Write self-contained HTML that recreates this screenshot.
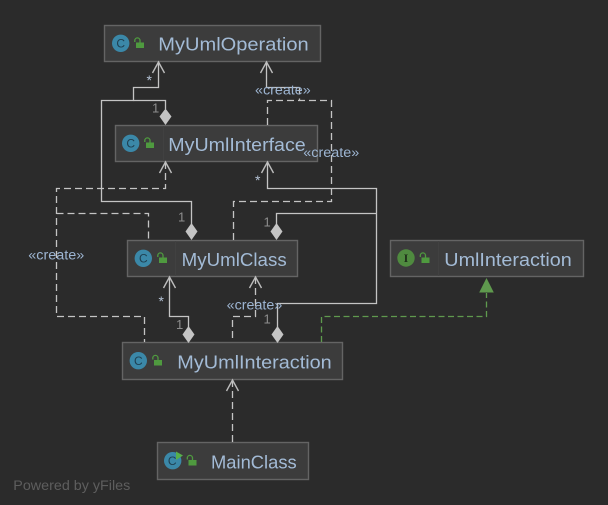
<!DOCTYPE html>
<html>
<head>
<meta charset="utf-8">
<style>
html,body{margin:0;padding:0;background:#2b2b2b;width:608px;height:505px;overflow:hidden}
svg{display:block}
text{font-family:"Liberation Sans",sans-serif}
.box{fill:#3c3c3c;stroke:#646464;stroke-width:1.4}
.sep{stroke:#414141;stroke-width:1}
.name{font-size:18.5px;fill:#a3bbd6}
.lab{font-size:13.5px;fill:#9db5d2}
.num{font-size:13px;fill:#8d8d8d}
.star{font-size:14px;fill:#b5c3d6}
.s{fill:none;stroke:#c4c4c4;stroke-width:1.3}
.d{fill:none;stroke:#c4c4c4;stroke-width:1.3;stroke-dasharray:7 4}
.a{fill:none;stroke:#bdbdbd;stroke-width:1.4}
.dia{fill:#c4c4c4}
.ic{font-size:12px;fill:#1f3f50;text-anchor:middle}
.lockb{fill:#4f9a3f}
.locks{fill:none;stroke:#4f9a3f;stroke-width:1.3}
</style>
</head>
<body>
<svg width="608" height="505" viewBox="0 0 608 505" xmlns="http://www.w3.org/2000/svg">
<rect width="608" height="505" fill="#2b2b2b"/>

<!-- boxes -->
<rect class="box" x="104.5" y="25.5" width="216" height="36"/>
<rect class="box" x="115.5" y="125.5" width="202" height="36"/>
<rect class="box" x="127.5" y="240.5" width="170" height="36"/>
<rect class="box" x="122.5" y="342.5" width="220" height="37"/>
<rect class="box" x="390.5" y="240.5" width="193" height="36"/>
<rect class="box" x="157.5" y="442.5" width="151" height="37"/>
<path class="sep" d="M163.5 126V161M175.5 241V276M438.5 241V276"/>

<!-- solid connectors -->
<path class="s" d="M191.5 224V201.5H101.5V100.5H133.5V87.5H158.5V62"/>
<path class="s" d="M133.5 100.5H165.5V109"/>
<path class="s" d="M267.5 162V188.5H376.5V303.5H277.5V327"/>
<path class="s" d="M376.5 213.5H276.5V224"/>
<path class="s" d="M169.5 277V316.5H188.5V327"/>
<path class="s" d="M266.5 62V87.5H299.5"/>

<!-- dashed connectors -->
<path class="d" d="M299.5 87.5V100.5"/>
<path class="d" d="M267.5 125V100.5H331.5V201.5H233.5V240"/>
<path class="d" d="M165.5 162V188.5H56.5V316.5H144.5V342"/>
<path class="d" d="M56.5 213.5H148.5V240"/>
<path class="d" d="M255.5 277V316.5H232.5V342"/>
<path class="d" d="M232.5 442V380"/>
<path d="M321.5 342V316.5H486.5V293" fill="none" stroke="#5f9a4e" stroke-width="1.3" stroke-dasharray="6 3.5"/>

<!-- open arrowheads -->
<path class="a" d="M152.5 73L158.5 62L164.5 73"/>
<path class="a" d="M260.5 73L266.5 62L272.5 73"/>
<path class="a" d="M159.5 173L165.5 162L171.5 173"/>
<path class="a" d="M261.5 173L267.5 162L273.5 173"/>
<path class="a" d="M163.5 288L169.5 277L175.5 288"/>
<path class="a" d="M249.5 288L255.5 277L261.5 288"/>
<path class="a" d="M226.5 391L232.5 380L238.5 391"/>

<!-- green triangle -->
<path d="M486.5 278L493.8 292.5H479.2Z" fill="#5f9a4e"/>

<!-- diamonds -->
<path class="dia" d="M165.5 108.5L171.5 116.5L165.5 125L159.5 116.5Z"/>
<path class="dia" d="M191.5 223L197.5 231.5L191.5 240L185.5 231.5Z"/>
<path class="dia" d="M276.5 223L282.5 231.5L276.5 240L270.5 231.5Z"/>
<path class="dia" d="M188.5 326L194.5 334.5L188.5 343L182.5 334.5Z"/>
<path class="dia" d="M277.5 326L283.5 334.5L277.5 343L271.5 334.5Z"/>

<!-- icons -->
<g><circle cx="120.7" cy="43.3" r="8.7" fill="#3b88a8"/><text class="ic" x="120.7" y="47.5">C</text>
<rect class="lockb" x="136" y="42.5" width="8" height="5.5"/><path class="locks" d="M134.8 42V40.5A2.6 2.6 0 0 1 140 40.5V42.5"/></g>
<g><circle cx="130.7" cy="143.3" r="8.7" fill="#3b88a8"/><text class="ic" x="130.7" y="147.5">C</text>
<rect class="lockb" x="146" y="142.5" width="8" height="5.5"/><path class="locks" d="M144.8 142V140.5A2.6 2.6 0 0 1 150 140.5V142.5"/></g>
<g><circle cx="143.3" cy="258.3" r="8.7" fill="#3b88a8"/><text class="ic" x="143.3" y="262.5">C</text>
<rect class="lockb" x="159" y="257.5" width="8" height="5.5"/><path class="locks" d="M157.8 257V255.5A2.6 2.6 0 0 1 163 255.5V257.5"/></g>
<g><circle cx="138.3" cy="360.7" r="8.7" fill="#3b88a8"/><text class="ic" x="138.3" y="365">C</text>
<rect class="lockb" x="154" y="360" width="8" height="5.5"/><path class="locks" d="M152.8 359.5V358A2.6 2.6 0 0 1 158 358V360"/></g>
<g><circle cx="406" cy="258" r="8.7" fill="#4f8a3f"/><text class="ic" x="406" y="262.2" style="fill:#1f2f1a;font-weight:bold;font-family:'Liberation Serif',serif">I</text>
<rect class="lockb" x="421.5" y="257.5" width="8" height="5.5"/><path class="locks" d="M420.3 257V255.5A2.6 2.6 0 0 1 425.5 255.5V257.5"/></g>
<g><circle cx="172.7" cy="460.7" r="8.7" fill="#3b88a8"/><text class="ic" x="172.2" y="465">C</text>
<path d="M176 451.5L183 455.5L176 460Z" fill="#57b04a"/>
<rect class="lockb" x="188.5" y="460" width="8" height="5.5"/><path class="locks" d="M187.3 459.5V458A2.6 2.6 0 0 1 192.5 458V460"/></g>

<!-- names -->
<text class="name" x="158.3" y="50.7" textLength="150.4" lengthAdjust="spacingAndGlyphs">MyUmlOperation</text>
<text class="name" x="168.3" y="151" textLength="137.4" lengthAdjust="spacingAndGlyphs">MyUmlInterface</text>
<text class="name" x="181.7" y="266" textLength="105" lengthAdjust="spacingAndGlyphs">MyUmlClass</text>
<text class="name" x="177.3" y="368.3" textLength="154.4" lengthAdjust="spacingAndGlyphs">MyUmlInteraction</text>
<text class="name" x="444.3" y="266" textLength="127.4" lengthAdjust="spacingAndGlyphs">UmlInteraction</text>
<text class="name" x="211" y="468.7" textLength="85.7" lengthAdjust="spacingAndGlyphs">MainClass</text>

<!-- edge labels -->
<text class="lab" x="255" y="94.5" textLength="55.7" lengthAdjust="spacingAndGlyphs">«create»</text>
<text class="lab" x="303.3" y="157.2" textLength="56" lengthAdjust="spacingAndGlyphs">«create»</text>
<text class="lab" x="28.3" y="259.5" textLength="56" lengthAdjust="spacingAndGlyphs">«create»</text>
<text class="lab" x="226.7" y="309.5" textLength="55.6" lengthAdjust="spacingAndGlyphs">«create»</text>

<text class="star" x="146.5" y="85">*</text>
<text class="star" x="255" y="185">*</text>
<text class="star" x="158.5" y="306">*</text>

<text class="num" x="152" y="112.5">1</text>
<text class="num" x="178" y="221.5">1</text>
<text class="num" x="263.5" y="226.5">1</text>
<text class="num" x="176" y="329">1</text>
<text class="num" x="263.5" y="323.5">1</text>

<text x="13.3" y="490" font-size="14" fill="#5e5e5e" textLength="117" lengthAdjust="spacingAndGlyphs">Powered by yFiles</text>
</svg>
</body>
</html>
